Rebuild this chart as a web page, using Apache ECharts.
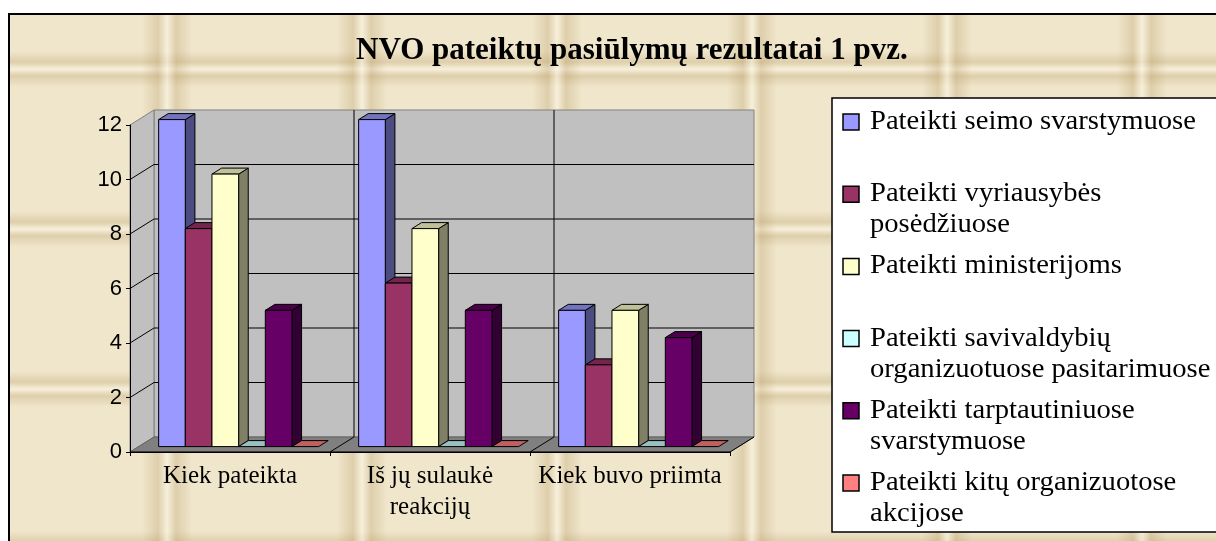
<!DOCTYPE html>
<html>
<head>
<meta charset="UTF-8">
<title>NVO pateiktų pasiūlymų rezultatai</title>
<script src="https://cdn.jsdelivr.net/npm/echarts@6/dist/echarts.min.js"></script>
<style>
  html, body { margin: 0; padding: 0; width: 1216px; height: 541px; overflow: hidden; background: #fff; }
  #frame {
    position: absolute; left: 8px; top: 13px; width: 1240px; height: 560px;
    border: 2px solid #000;
    background-color: #f0e6cc;
    background-image:
      repeating-linear-gradient(90deg, rgba(0,0,0,0) 0px, rgba(0,0,0,0) 132px, rgba(175,145,85,0.28) 148px, rgba(252,247,230,0.55) 157px, rgba(175,145,85,0.28) 166px, rgba(0,0,0,0) 182px, rgba(0,0,0,0) 195px),
      repeating-linear-gradient(180deg, rgba(0,0,0,0) 0px, rgba(0,0,0,0) 36px, rgba(175,145,85,0.28) 47px, rgba(252,247,230,0.55) 54px, rgba(175,145,85,0.28) 61px, rgba(0,0,0,0) 72px, rgba(0,0,0,0) 160px);
  }
  #main { position: absolute; left: 0; top: 0; width: 1216px; height: 541px; }
</style>
</head>
<body>
<div id="frame"></div>
<div id="main"></div>
<script>
  // duomenys
  var categories = ['Kiek pateikta', 'Iš jų sulaukė\nreakcijų', 'Kiek buvo priimta'];
  var seriesNames = [
    'Pateikti seimo svarstymuose',
    'Pateikti vyriausybės\nposėdžiuose',
    'Pateikti ministerijoms',
    'Pateikti savivaldybių\norganizuotuose pasitarimuose',
    'Pateikti tarptautiniuose\nsvarstymuose',
    'Pateikti kitų organizuotose\nakcijose'
  ];
  var seimo = [12, 12, 5];
  var vyriausybes = [8, 6, 3];
  var ministerijoms = [10, 8, 5];
  var savivaldybiu = [0, 0, 0];
  var tarptautiniuose = [5, 5, 4];
  var kitu = [0, 0, 0];
  var values = [seimo, vyriausybes, ministerijoms, savivaldybiu, tarptautiniuose, kitu];

  var yMax = 12, yInterval = 2;

  // spalvos: priekis, šonas, viršus
  var frontColors = ['#9999ff', '#993366', '#ffffcc', '#ccffff', '#660066', '#ff8080'];
  var sideColors = ['#4c4c80', '#4c1933', '#808066', '#668080', '#330033', '#804040'];
  var topColors = ['#7373c0', '#73264d', '#c0c099', '#99c0c0', '#4c004c', '#c06060'];

  var DEPTH_X = 0.12, DEPTH_Y = 0.075;   // gylio vektorius, dalis nuo kategorijos pločio
  var BAR_F0 = 0.36, BAR_F1 = 0.76;      // stulpelių gylis

  var chart = echarts.init(document.getElementById('main'), null, { renderer: 'canvas' });

  function line(x1, y1, x2, y2, color) {
    return { type: 'line', shape: { x1: x1, y1: y1, x2: x2, y2: y2 }, style: { stroke: color, lineWidth: 1 }, silent: true };
  }

  function renderWalls(params, api) {
    var band = api.size([1, 0])[0];
    var dx = band * DEPTH_X, dy = -band * DEPTH_Y;
    var p0 = api.coord([0, 0]);
    var left = p0[0] - band / 2, right = left + band * categories.length;
    var yb = p0[1], yt = api.coord([0, yMax])[1];
    var ch = [];
    ch.push({ type: 'rect', shape: { x: left + dx, y: yt + dy, width: right - left, height: yb - yt },
      style: { fill: '#c0c0c0', stroke: '#808080', lineWidth: 1 } });
    ch.push({ type: 'polygon', shape: { points: [[left, yt], [left + dx, yt + dy], [left + dx, yb + dy], [left, yb]] },
      style: { fill: '#c0c0c0', stroke: '#808080', lineWidth: 1 } });
    ch.push({ type: 'polygon', shape: { points: [[left, yb], [right, yb], [right + dx, yb + dy], [left + dx, yb + dy]] },
      style: { fill: '#808080', stroke: '#606060', lineWidth: 1 } });
    for (var v = yInterval; v < yMax; v += yInterval) {
      var y = api.coord([0, v])[1];
      ch.push(line(left + dx, y + dy, right + dx, y + dy, '#000'));
      ch.push(line(left, y, left + dx, y + dy, '#000'));
    }
    for (var k = 1; k <= categories.length; k++) {
      var xk = left + k * band;
      if (k < categories.length) ch.push(line(xk + dx, yt + dy, xk + dx, yb + dy, '#000'));
      ch.push(line(xk, yb, xk + dx, yb + dy, '#000'));
    }
    ch.push(line(left, yb, right, yb, '#000'));
    return { type: 'group', children: ch };
  }

  function makeBarRenderer(s) {
    return function (params, api) {
      var cat = api.value(0), val = api.value(1);
      var band = api.size([1, 0])[0];
      var w = band / 7.5;
      var dx = band * DEPTH_X, dy = -band * DEPTH_Y;
      var top = api.coord([cat, val]), base = api.coord([cat, 0]);
      var x0 = top[0] - 3 * w + s * w + dx * BAR_F0;
      var yt = top[1] + dy * BAR_F0, yb = base[1] + dy * BAR_F0;
      var bx = dx * (BAR_F1 - BAR_F0), by = dy * (BAR_F1 - BAR_F0);
      var stroke = { stroke: '#000', lineWidth: 1 };
      var ch = [];
      if (yb - yt > 0.5) {
        ch.push({ type: 'polygon', shape: { points: [[x0 + w, yt], [x0 + w + bx, yt + by], [x0 + w + bx, yb + by], [x0 + w, yb]] },
          style: Object.assign({ fill: sideColors[s] }, stroke) });
      }
      ch.push({ type: 'polygon', shape: { points: [[x0, yt], [x0 + bx, yt + by], [x0 + w + bx, yt + by], [x0 + w, yt]] },
        style: Object.assign({ fill: topColors[s] }, stroke) });
      if (yb - yt > 0.5) {
        ch.push({ type: 'rect', shape: { x: x0, y: yt, width: w, height: yb - yt },
          style: Object.assign({ fill: frontColors[s] }, stroke) });
      }
      return { type: 'group', children: ch };
    };
  }

  var series = [{
    name: 'walls', type: 'custom', z: 1, silent: true, clip: false,
    renderItem: renderWalls, data: [[0, 0]], tooltip: { show: false }
  }];
  values.forEach(function (vals, s) {
    series.push({
      name: seriesNames[s], type: 'custom', z: 2 + s, clip: false,
      renderItem: makeBarRenderer(s),
      encode: { x: 0, y: 1 },
      data: vals.map(function (v, i) { return [i, v]; })
    });
  });

  // legenda
  var legendChildren = [{
    type: 'rect', shape: { x: 832, y: 98, width: 400, height: 434 },
    style: { fill: '#fff', stroke: '#000', lineWidth: 1.5 }
  }];
  seriesNames.forEach(function (name, i) {
    var y = 122 + i * 72.2;
    legendChildren.push({ type: 'rect', shape: { x: 843, y: y - 8, width: 16, height: 16 },
      style: { fill: frontColors[i], stroke: '#000', lineWidth: 1.5 } });
    legendChildren.push({ type: 'text', x: 870, y: y - 15.5, scaleX: 1.06,
      style: { text: name, fill: '#000', font: '27px "Liberation Serif", serif', lineHeight: 31, verticalAlign: 'top' } });
  });

  var option = {
    backgroundColor: 'transparent',
    animation: false,
    title: {
      text: 'NVO pateiktų pasiūlymų rezultatai 1 pvz.',
      left: 356, top: 35, padding: 0,
      textStyle: { fontFamily: '"Liberation Serif", serif', fontWeight: 'bold', fontSize: 31, color: '#000' }
    },
    grid: { left: 130, top: 125, width: 600, height: 327 },
    xAxis: {
      type: 'category', data: categories, z: 10,
      axisLine: { lineStyle: { color: '#000', width: 1 } },
      axisTick: { show: true, length: 4, lineStyle: { color: '#000' } },
      axisLabel: { interval: 0, margin: 9, color: '#000', fontFamily: '"Liberation Serif", serif', fontSize: 25, lineHeight: 31 },
      splitLine: { show: false }
    },
    yAxis: {
      type: 'value', min: 0, max: yMax, interval: yInterval, z: 10,
      axisLine: { show: true, lineStyle: { color: '#000', width: 1 } },
      axisTick: { show: true, length: 4, lineStyle: { color: '#000' } },
      axisLabel: { margin: 8, color: '#000', fontFamily: '"Liberation Sans", Arial, sans-serif', fontSize: 22 },
      splitLine: { show: false }
    },
    graphic: [{ type: 'group', silent: true, children: legendChildren }],
    series: series
  };
  chart.setOption(option);
</script>
</body>
</html>
